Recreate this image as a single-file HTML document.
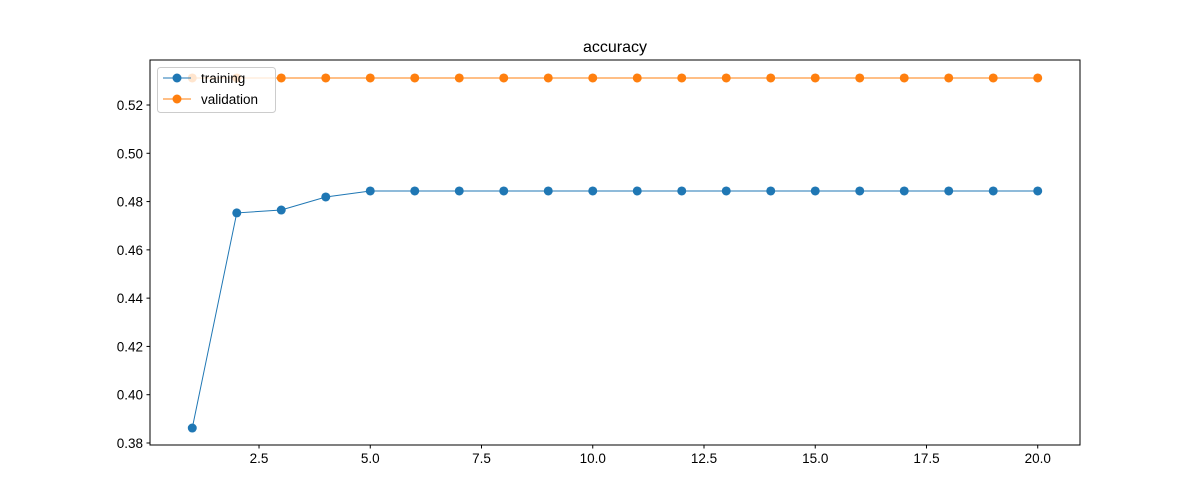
<!DOCTYPE html>
<html><head><meta charset="utf-8"><style>
body{margin:0;background:#fff;}
svg{display:block;font-family:"Liberation Sans","DejaVu Sans",sans-serif;}
</style></head><body>
<svg id="chart" width="1200" height="500">
<rect x="0" y="0" width="1200" height="500" fill="#fff"/>
<text x="615" y="52" font-size="16" text-anchor="middle">accuracy</text>
<g id="grid"></g>
<g id="series"></g>
<rect x="150" y="60" width="930" height="385" fill="none" stroke="#000" stroke-width="1"/>
<g>
<rect x="157.5" y="67.5" width="118" height="45" rx="3" fill="#fff" fill-opacity="0.8" stroke="#ccc"/>
<g>
<line x1="163" y1="78" x2="191" y2="78" stroke="#1f77b4" stroke-width="1"/><circle cx="177" cy="78" r="4.5" fill="#1f77b4"/>
<text x="201" y="83" font-size="13.5">training</text></g>
<g>
<line x1="163" y1="99" x2="191" y2="99" stroke="#ff7f0e" stroke-width="1"/><circle cx="177" cy="99" r="4.5" fill="#ff7f0e"/>
<text x="201" y="104" font-size="13.5">validation</text></g>
</g>
</svg>
<script>
const epochs=[1,2,3,4,5,6,7,8,9,10,11,12,13,14,15,16,17,18,19,20];
const training=[0.3862,0.4753,0.4765,0.4819,0.4844,0.4844,0.4844,0.4844,0.4844,0.4844,0.4844,0.4844,0.4844,0.4844,0.4844,0.4844,0.4844,0.4844,0.4844,0.4844];
const validation=[0.5312,0.5312,0.5312,0.5312,0.5312,0.5312,0.5312,0.5312,0.5312,0.5312,0.5312,0.5312,0.5312,0.5312,0.5312,0.5312,0.5312,0.5312,0.5312,0.5312];
const xTicks=[2.5,5.0,7.5,10.0,12.5,15.0,17.5,20.0];
const yTicks=[0.38,0.40,0.42,0.44,0.46,0.48,0.50,0.52];
const NS='http://www.w3.org/2000/svg';
const L=150,R=1080,T=60,B=445;
const x0=0.05,x1=20.95,y0=0.37917,y1=0.53864;
const sx=v=>L+(v-x0)/(x1-x0)*(R-L);
const sy=v=>B-(v-y0)/(y1-y0)*(B-T);
function mk(t,a,p){const e=document.createElementNS(NS,t);for(const k in a)e.setAttribute(k,a[k]);p.appendChild(e);return e;}
const g=document.getElementById('grid');
xTicks.forEach(v=>{const x=sx(v);
 const l=mk('line',{x1:x,x2:x,y1:B,y2:B+3.5,stroke:'#000'},g);
 
 
 const t=mk('text',{x:x,y:B+18,'font-size':13.5,'text-anchor':'middle'},g);t.textContent=v.toFixed(1);
 
 });
yTicks.forEach(v=>{const y=sy(v);
 const l=mk('line',{x1:L-3.5,x2:L,y1:y,y2:y,stroke:'#000'},g);
 
 
 const t=mk('text',{x:L-7,y:y+5,'font-size':13.5,'text-anchor':'end'},g);t.textContent=v.toFixed(2);
 
 });
const s=document.getElementById('series');
[[training,'#1f77b4','training'],[validation,'#ff7f0e','validation']].forEach(([d,c,n])=>{
 const pts=d.map((v,i)=>sx(epochs[i])+','+sy(v)).join(' ');
 const pl=mk('polyline',{points:pts,fill:'none',stroke:c,'stroke-width':1},s);
 
 
 d.forEach((v,i)=>{const ci=mk('circle',{cx:sx(epochs[i]),cy:sy(v),r:4.5,fill:c},s);
  
  });
});
</script>
</body></html>
